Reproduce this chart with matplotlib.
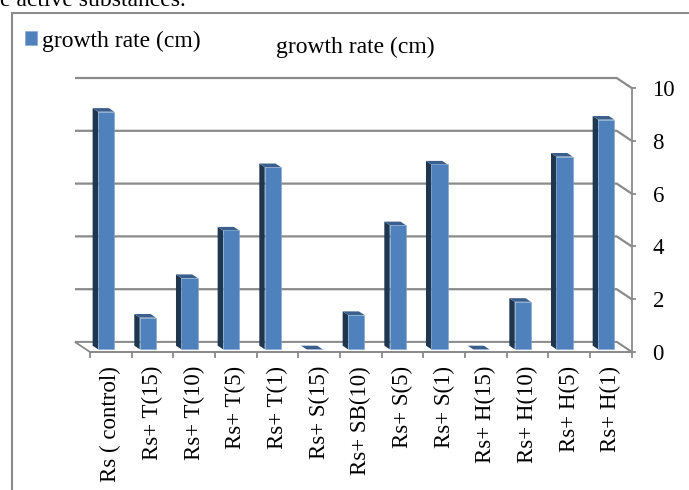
import matplotlib
matplotlib.use("Agg")
import matplotlib.pyplot as plt
from matplotlib.patches import Polygon, Rectangle
import numpy as np

categories = ["Rs ( control)", "Rs+ T(15)", "Rs+ T(10)", "Rs+ T(5)", "Rs+ T(1)",
              "Rs+ S(15)", "Rs+ SB(10)", "Rs+ S(5)", "Rs+ S(1)", "Rs+ H(15)",
              "Rs+ H(10)", "Rs+ H(5)", "Rs+ H(1)"]
growth_rate = [9.0, 1.2, 2.7, 4.5, 6.9, 0.0, 1.3, 4.7, 7.0, 0.0, 1.8, 7.3, 8.7]
y_ticks = [0, 2, 4, 6, 8, 10]
series_name = "growth rate (cm)"

W, H = 689, 490
fig = plt.figure(figsize=(W / 100, H / 100), dpi=100)
plt.rcParams["font.family"] = ["Liberation Serif", "DejaVu Serif"]

FRONT = "#4F81BD"
SIDE = "#1F364F"
TOP = "#3A5F8C"
GRID = "#8A8A8A"

# plot area (front plane) in pixels
x0, x1, y0, y1 = 90, 631.7, 352, 88
ax = fig.add_axes([x0 / W, 1 - y0 / H, (x1 - x0) / W, (y0 - y1) / H])
n = len(categories)
ax.set_xlim(-0.5, n - 0.5)
ax.set_ylim(0, 10)
px_x = (x1 - x0) / n
px_y = (y0 - y1) / 10

# oblique depth offset from the front plane to the back wall, in data units
dx, dy = -15 / px_x, 10 / px_y

# back wall gridlines with connectors to the value axis
for v in y_ticks:
    ax.plot([-0.5 + dx, n - 0.5 + dx, n - 0.5], [v + dy, v + dy, v],
            color=GRID, lw=1.6, clip_on=False, zorder=1, solid_capstyle="butt")

# floor
floor = Polygon([(-0.5, 0), (n - 0.5, 0), (n - 0.5 + dx, dy), (-0.5 + dx, dy)],
                closed=True, facecolor="white", edgecolor=GRID, lw=1.3,
                clip_on=False, zorder=1.5)
ax.add_patch(floor)

# bars: front face via ax.bar, side and top faces as polygons
d0 = 0.27
bw = 0.39
bd = 0.36
ox, oy = bd * dx, bd * dy
xs = np.arange(n) + d0 * dx - 0.015
base = d0 * dy
bars = ax.bar(xs, [v if v > 0 else 0 for v in growth_rate], width=bw, bottom=base,
              color=FRONT, edgecolor="#7FA3D0", linewidth=0.4, zorder=4,
              label=series_name, clip_on=False)
for xc, v in zip(xs, growth_rate):
    xl, xr = xc - bw / 2, xc + bw / 2
    top = base + v
    if v > 0:
        ax.add_patch(Polygon([(xl, base), (xl, top), (xl + ox, top + oy), (xl + ox, base + oy)],
                             closed=True, facecolor=SIDE, edgecolor="none", zorder=3,
                             clip_on=False))
    ax.add_patch(Polygon([(xl, top), (xr, top), (xr + ox, top + oy), (xl + ox, top + oy)],
                         closed=True, facecolor=TOP, edgecolor="none", zorder=3.5,
                         clip_on=False))

# axes styling
for s in ["left", "top"]:
    ax.spines[s].set_visible(False)
for s in ["bottom", "right"]:
    ax.spines[s].set_color(GRID)
    ax.spines[s].set_linewidth(1.3)
    ax.spines[s].set_zorder(2)

ax.set_xticks(np.arange(n))
ax.set_xticklabels(categories, rotation=90, fontsize=16.5, va="top", ha="center")
ax.set_xticks(np.arange(n + 1) - 0.5, minor=True)
ax.tick_params(axis="x", which="major", length=0, pad=10)
ax.tick_params(axis="x", which="minor", length=4, width=1.3, color=GRID, direction="out")

ax.yaxis.tick_right()
ax.set_yticks(y_ticks)
ax.set_yticklabels([str(t) for t in y_ticks], fontsize=16.5)
ax.tick_params(axis="y", which="major", length=3, width=1.3, color=GRID,
               direction="out", pad=12)
ax.tick_params(axis="y", which="minor", length=0)
ax.set_facecolor("none")

# chart frame
fig.patches.append(Rectangle((11.7 / W, -0.1), 1.2, 1.1 - 13.3 / H,
                             transform=fig.transFigure, fill=False,
                             edgecolor="#8C8C8C", lw=1.5))

# document text above the chart
fig.text(0, 1 - 5.5 / H, "e active substances.", fontsize=17, ha="left",
         va="baseline", color="black")

# title and legend
fig.text(355.5 / W, 1 - 47 / H, series_name, fontsize=17, ha="center", va="center")
fig.legend(handles=[bars], labels=[series_name], loc="center left",
           bbox_to_anchor=(25 / W, 1 - 41 / H), frameon=False, fontsize=17,
           handlelength=0.52, handleheight=0.52, handletextpad=0.2,
           borderpad=0, borderaxespad=0)

fig.savefig("out.png", dpi=100)
